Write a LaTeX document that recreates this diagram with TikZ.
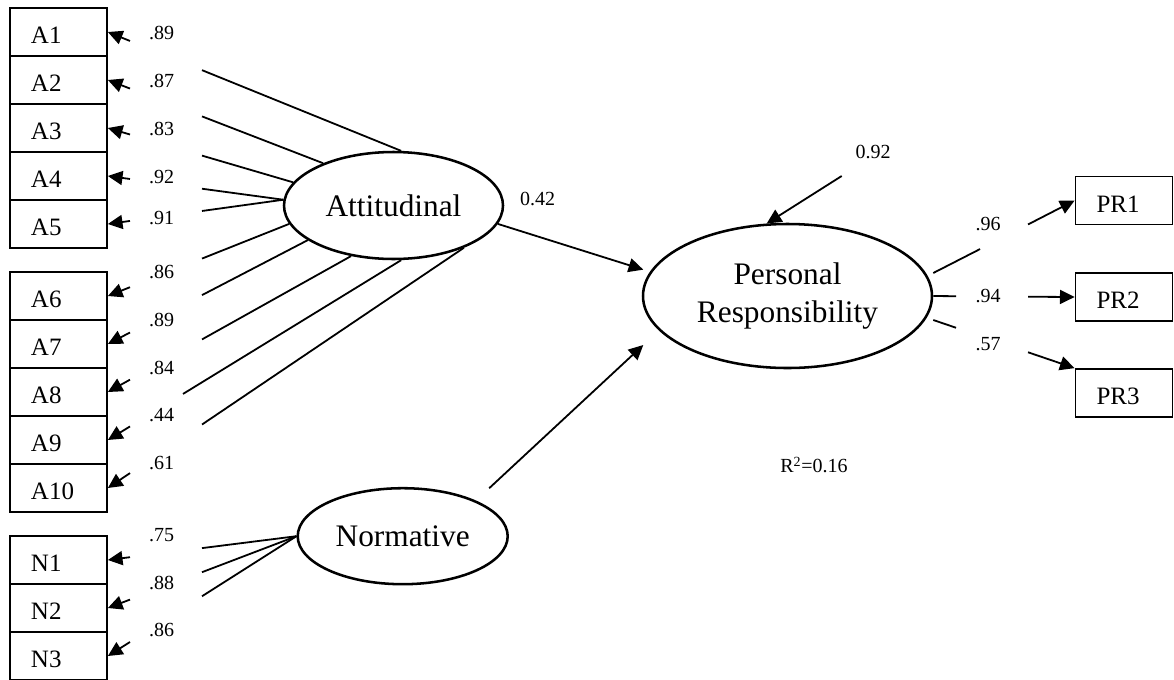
\documentclass[tikz,border=0pt]{standalone}
\usepackage{fontspec}
\setmainfont{Liberation Serif}
\usetikzlibrary{arrows.meta,calc,shapes.geometric}
\newcommand{\gapped}[4]{%
  \coordinate (gS) at (#1);
  \coordinate (gE) at (#2);
  \coordinate (gVa) at (#3,0);
  \coordinate (gVb) at (#3,10);
  \coordinate (gWa) at (#4,0);
  \coordinate (gWb) at (#4,10);
  \draw[conn] (gS) -- (intersection of gS--gE and gVa--gVb);
  \draw[conn,arr] (intersection of gS--gE and gWa--gWb) -- (gE);
}
\begin{document}
\begin{tikzpicture}[x=0.75pt,y=-0.75pt,
  conn/.style={line width=1.35pt},
  arr/.style={-{Triangle[length=11pt,width=10.5pt]}},
  ind/.style={draw,line width=1.3pt,minimum height=36pt,text width=41.25pt,
    inner xsep=15.75pt,inner ysep=0pt,align=left,
    font=\fontsize{18.75}{22}\selectfont,text height=17.5pt,text depth=0pt},
  lat/.style={ellipse,draw,line width=1.9pt,inner sep=0pt,align=center,
    font=\fontsize{23.5}{28.4}\selectfont},
  num/.style={inner sep=0pt,font=\fontsize{15}{18}\selectfont},
]
\path[use as bounding box,fill=white] (0,0) rectangle (1174,679);

% latent variables
\node[lat,minimum width=164.25pt,minimum height=80.25pt] (att) at (393.5,205.5) {Attitudinal};
\node[lat,minimum width=216.75pt,minimum height=108pt] (pr) at (787.5,296) {Personal\\Responsibility};
\node[lat,minimum width=157.5pt,minimum height=72pt] (norm) at (402.7,536.2) {Normative};

% indicators
\foreach \nm/\yy in {A1/32,A2/80,A3/128,A4/176,A5/224,A6/296,A7/344,A8/392,A9/440,A10/488,N1/560,N2/608,N3/656}
  \node[ind] (\nm) at (58.5,\yy) {\nm};
\foreach \nm/\yy in {PR1/200.5,PR2/297,PR3/393}
  \node[ind] (\nm) at (1124,\yy) {\nm};

% loadings Attitudinal
\gapped{att.82}{A1.east}{202}{130}
\gapped{att.149}{A2.east}{202}{130}
\gapped{att.167.4}{A3.east}{202}{130}
\gapped{att.177.5}{A4.east}{202}{130}
\gapped{att.177.5}{A5.east}{202}{130}
\gapped{att.190}{A6.east}{202}{130}
\gapped{att.202.7}{A7.east}{202}{130}
\gapped{att.230}{A8.east}{202}{130}
\gapped{att.278}{A9.east}{183}{130}
\gapped{att.329.3}{A10.east}{202}{130}
% loadings Normative
\gapped{norm.west}{N1.east}{202}{130}
\gapped{norm.west}{N2.east}{202}{130}
\gapped{norm.west}{N3.east}{202}{130}
% loadings Personal Responsibility
\gapped{$(pr.east)+(0,-23)$}{PR1.west}{980}{1028}
\gapped{pr.east}{PR2.west}{956}{1028}
\gapped{$(pr.east)+(0,24)$}{PR3.north west}{956}{1028}

% structural paths
\draw[conn,arr,shorten >=5.25pt] (att.350) -- (pr.170.7);
\draw[conn,arr] ($(norm.center)+(86.5,-48)$) -- ($(pr.center)+(-144.2,49)$);
\coordinate (dist) at (841.7,176);
\draw[conn,arr] (dist) -- (pr.106.3);

% numbers
\foreach \nm/\yy/\tx in {la1/32.5/.89,la2/81/.87,la3/129/.83,la4/177/.92,la5/218.5/.91,
  la6/272/.86,la7/320/.89,la8/367.5/.84,la9/415/.44,la10/463/.61,
  ln1/535/.75,ln2/583/.88,ln3/630/.86}
  \node[num] (\nm) at (161.7,\yy) {\tx};
\node[num] (lp1) at (988,224) {.96};
\node[num] (lp2) at (988,296) {.94};
\node[num] (lp3) at (988,344) {.57};
\node[num] (l042) at (537.7,199) {0.42};
\node[num] (l092) at (873,151.7) {0.92};
\node[num] (r2) at (814,465) {R\textsuperscript{2}=0.16};
\end{tikzpicture}
\end{document}
